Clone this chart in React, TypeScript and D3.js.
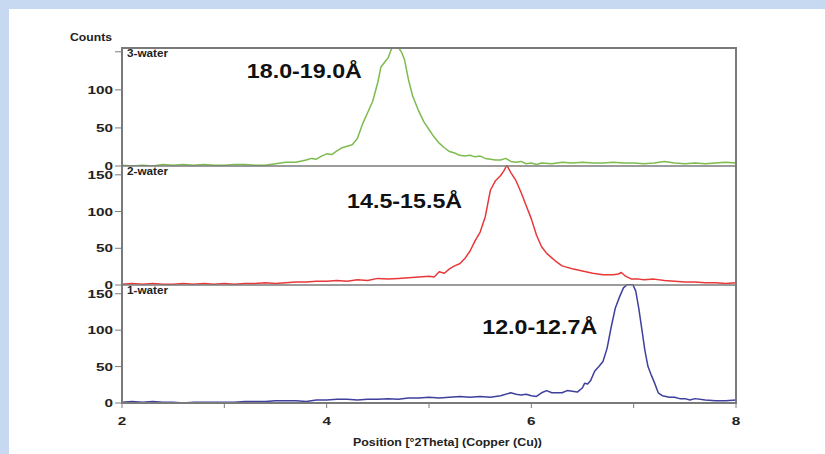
import React from "react";
import * as d3 from "d3";

// ---------- data ----------
const PANEL_NAMES = ["3-water", "2-water", "1-water"];
const PANEL_COLORS = ["#7dbb4e", "#e8383a", "#3f3f9e"];
const PANEL_MAX = [155, 162, 162];
const PANEL_ANNOT = ["18.0-19.0Å", "14.5-15.5Å", "12.0-12.7Å"];
const ANNOT_X = [3.22, 4.2, 5.52];
const ANNOT_Y = [116, 105, 95];
const Y_TICKS = [0, 50, 100, 150];
const Y_LABELS_TOP = [0, 50, 100];
const Y_LABELS_OTHER = [0, 50, 100, 150];
const X_TICKS = [2, 3, 4, 5, 6, 7, 8];
const X_LABELS = [2, 4, 6, 8];
const X_TITLE = "Position [°2Theta] (Copper (Cu))";
const Y_TITLE = "Counts";

const GREEN: [number, number][] = [
  [2.0, 1], [2.1, 0], [2.2, 1], [2.3, 0], [2.4, 2], [2.5, 1], [2.6, 2], [2.7, 1], [2.8, 2], [2.9, 1],
  [3.0, 1], [3.1, 2], [3.2, 2], [3.3, 1], [3.4, 1], [3.5, 3], [3.6, 5], [3.7, 5], [3.8, 8], [3.85, 10],
  [3.9, 9], [3.95, 13], [4.0, 16], [4.05, 15], [4.1, 20], [4.15, 24], [4.2, 26], [4.25, 28], [4.3, 36],
  [4.35, 55], [4.4, 70], [4.45, 85], [4.5, 110], [4.53, 130], [4.57, 137], [4.6, 142], [4.64, 156],
  [4.7, 156], [4.73, 150], [4.76, 140], [4.8, 113], [4.84, 92], [4.9, 72], [4.95, 58], [5.0, 48],
  [5.05, 38], [5.1, 30], [5.15, 24], [5.2, 19], [5.25, 17], [5.3, 14], [5.35, 13], [5.4, 14], [5.45, 12],
  [5.5, 13], [5.55, 10], [5.6, 9], [5.65, 8], [5.7, 8], [5.75, 10], [5.8, 6], [5.85, 5], [5.9, 6],
  [5.95, 3], [6.0, 4], [6.05, 2], [6.1, 4], [6.2, 3], [6.3, 5], [6.4, 4], [6.5, 5], [6.6, 4], [6.7, 4],
  [6.8, 5], [6.9, 4], [7.0, 4], [7.1, 3], [7.2, 4], [7.3, 6], [7.4, 4], [7.5, 3], [7.6, 4], [7.7, 3],
  [7.8, 4], [7.9, 5], [8.0, 4],
];

const RED: [number, number][] = [
  [2.0, 1], [2.1, 2], [2.2, 1], [2.3, 2], [2.4, 1], [2.5, 1], [2.6, 2], [2.7, 1], [2.8, 2], [2.9, 1],
  [3.0, 2], [3.1, 1], [3.2, 2], [3.3, 2], [3.4, 3], [3.5, 2], [3.6, 3], [3.7, 4], [3.8, 4], [3.9, 5],
  [4.0, 5], [4.1, 6], [4.2, 5], [4.3, 7], [4.4, 6], [4.5, 9], [4.6, 8], [4.7, 9], [4.8, 10], [4.9, 11],
  [5.0, 12], [5.05, 11], [5.1, 18], [5.15, 16], [5.2, 22], [5.25, 26], [5.3, 29], [5.35, 36], [5.4, 46],
  [5.45, 60], [5.5, 72], [5.55, 93], [5.6, 129], [5.65, 142], [5.7, 149], [5.73, 155], [5.76, 163],
  [5.8, 153], [5.85, 142], [5.9, 126], [5.95, 108], [6.0, 90], [6.05, 68], [6.1, 52], [6.15, 43],
  [6.2, 37], [6.25, 31], [6.3, 26], [6.35, 24], [6.4, 22], [6.5, 19], [6.6, 16], [6.7, 14], [6.8, 14],
  [6.85, 15], [6.88, 17], [6.92, 12], [6.98, 8], [7.05, 8], [7.1, 7], [7.2, 8], [7.3, 6], [7.4, 5],
  [7.5, 4], [7.6, 4], [7.7, 3], [7.8, 3], [7.9, 2], [8.0, 3],
];

const BLUE: [number, number][] = [
  [2.0, 1], [2.1, 2], [2.2, 1], [2.3, 2], [2.4, 1], [2.5, 1], [2.6, 0], [2.7, 1], [2.8, 1], [2.9, 1],
  [3.0, 1], [3.1, 1], [3.2, 2], [3.3, 2], [3.4, 2], [3.5, 3], [3.6, 3], [3.7, 3], [3.8, 2], [3.9, 4],
  [4.0, 4], [4.1, 5], [4.2, 5], [4.3, 4], [4.4, 5], [4.5, 5], [4.6, 6], [4.7, 5], [4.8, 7], [4.9, 7],
  [5.0, 8], [5.1, 7], [5.2, 8], [5.3, 9], [5.4, 8], [5.5, 9], [5.6, 8], [5.7, 10], [5.8, 14], [5.85, 12],
  [5.9, 11], [5.95, 12], [6.0, 10], [6.05, 9], [6.1, 14], [6.15, 17], [6.2, 14], [6.3, 14], [6.35, 17],
  [6.4, 16], [6.45, 15], [6.5, 21], [6.52, 27], [6.55, 26], [6.58, 31], [6.62, 44], [6.66, 50],
  [6.7, 57], [6.74, 75], [6.78, 104], [6.82, 130], [6.86, 145], [6.9, 158], [6.94, 163], [6.99, 163],
  [7.02, 154], [7.05, 130], [7.08, 101], [7.11, 72], [7.14, 50], [7.17, 39], [7.2, 29], [7.24, 14],
  [7.28, 10], [7.35, 8], [7.4, 8], [7.45, 6], [7.5, 6], [7.55, 4], [7.6, 6], [7.7, 4], [7.8, 3],
  [7.9, 3], [8.0, 4],
];

const SERIES = [GREEN, RED, BLUE];

// ---------- layout ----------
const W = 825;
const H = 454;
const PLOT_LEFT = 122;
const PLOT_RIGHT = 736;
const PANEL_TOPS = [48, 166, 285];
const PANEL_BOTTOMS = [166, 285, 403];
const FONT = "'Liberation Sans', Arial, sans-serif";
const AXIS_GRAY = "#7a7a7a";
const TEXT_COLOR = "#222";
const DIGIT_W = 8.5;

export default function App() {
  const x = d3.scaleLinear().domain([2, 8]).range([PLOT_LEFT, PLOT_RIGHT]);
  const yScales = PANEL_MAX.map((m, i) =>
    d3.scaleLinear().domain([0, m]).range([PANEL_BOTTOMS[i], PANEL_TOPS[i]])
  );

  return (
    <svg
      width={W}
      height={H}
      style={{ position: "absolute", left: 0, top: 0, display: "block" }}
      fontFamily={FONT}
    >
      <defs>
        {PANEL_NAMES.map((_, i) => (
          <clipPath id={`clip${i}`} key={i}>
            <rect
              x={PLOT_LEFT}
              y={PANEL_TOPS[i] - 1}
              width={PLOT_RIGHT - PLOT_LEFT}
              height={PANEL_BOTTOMS[i] - PANEL_TOPS[i] + 1}
            />
          </clipPath>
        ))}
      </defs>
      <rect x={0} y={0} width={W} height={H} fill="#ffffff" />
      <rect x={0} y={0} width={W} height={9} fill="#c6d9f1" />
      <rect x={0} y={0} width={9} height={H} fill="#c6d9f1" />

      {/* series */}
      {SERIES.map((data, i) => {
        const line = d3
          .line<[number, number]>()
          .x((d) => x(d[0]))
          .y((d) => yScales[i](d[1]));
        return (
          <path
            key={i}
            d={line(data) || ""}
            fill="none"
            stroke={PANEL_COLORS[i]}
            strokeWidth={1.5}
            strokeLinejoin="round"
            clipPath={`url(#clip${i})`}
          />
        );
      })}

      {/* frame & separators */}
      <rect
        x={PLOT_LEFT}
        y={PANEL_TOPS[0]}
        width={PLOT_RIGHT - PLOT_LEFT}
        height={PANEL_BOTTOMS[2] - PANEL_TOPS[0]}
        fill="none"
        stroke={AXIS_GRAY}
        strokeWidth={2}
      />
      {PANEL_BOTTOMS.slice(0, 2).map((b, i) => (
        <line key={i} x1={PLOT_LEFT} x2={PLOT_RIGHT} y1={b} y2={b} stroke={AXIS_GRAY} strokeWidth={1.6} />
      ))}

      {/* y ticks and labels */}
      {yScales.map((ys, i) => (
        <g key={i}>
          {Y_TICKS.map((t) => (
            <line key={t} x1={PLOT_LEFT - 7} x2={PLOT_LEFT} y1={ys(t)} y2={ys(t)} stroke={AXIS_GRAY} strokeWidth={1} />
          ))}
          {(i === 0 ? Y_LABELS_TOP : Y_LABELS_OTHER).map((t) => (
            <text
              key={t}
              x={PLOT_LEFT - 9}
              y={ys(t)}
              dy="0.35em"
              textAnchor="end"
              fontSize={11.5}
              fontWeight="bold"
              fill={TEXT_COLOR}
              textLength={String(t).length * DIGIT_W}
              lengthAdjust="spacingAndGlyphs"
            >
              {t}
            </text>
          ))}
          <text
            x={PLOT_LEFT + 5}
            y={PANEL_TOPS[i] + 9}
            fontSize={10.5}
            fontWeight="bold"
            fill={TEXT_COLOR}
            textLength={41}
            lengthAdjust="spacingAndGlyphs"
          >
            {PANEL_NAMES[i]}
          </text>
          <text
            x={x(ANNOT_X[i])}
            y={ys(ANNOT_Y[i])}
            fontSize={21}
            fontWeight="bold"
            fill="#111"
            textLength={115}
            lengthAdjust="spacingAndGlyphs"
          >
            {PANEL_ANNOT[i]}
          </text>
        </g>
      ))}

      {/* x ticks and labels */}
      {X_TICKS.map((t) => (
        <line key={t} x1={x(t)} x2={x(t)} y1={PANEL_BOTTOMS[2]} y2={PANEL_BOTTOMS[2] + 5} stroke={AXIS_GRAY} strokeWidth={1} />
      ))}
      {X_LABELS.map((t) => (
        <text
          key={t}
          x={x(t)}
          y={425}
          textAnchor="middle"
          fontSize={11.5}
          fontWeight="bold"
          fill={TEXT_COLOR}
          textLength={DIGIT_W}
          lengthAdjust="spacingAndGlyphs"
        >
          {t}
        </text>
      ))}
      <text
        x={353}
        y={446}
        fontSize={11.5}
        fontWeight="bold"
        fill={TEXT_COLOR}
        textLength={189}
        lengthAdjust="spacingAndGlyphs"
      >
        {X_TITLE}
      </text>
      <text
        x={70}
        y={41}
        fontSize={11.5}
        fontWeight="bold"
        fill={TEXT_COLOR}
        textLength={42}
        lengthAdjust="spacingAndGlyphs"
      >
        {Y_TITLE}
      </text>
    </svg>
  );
}
